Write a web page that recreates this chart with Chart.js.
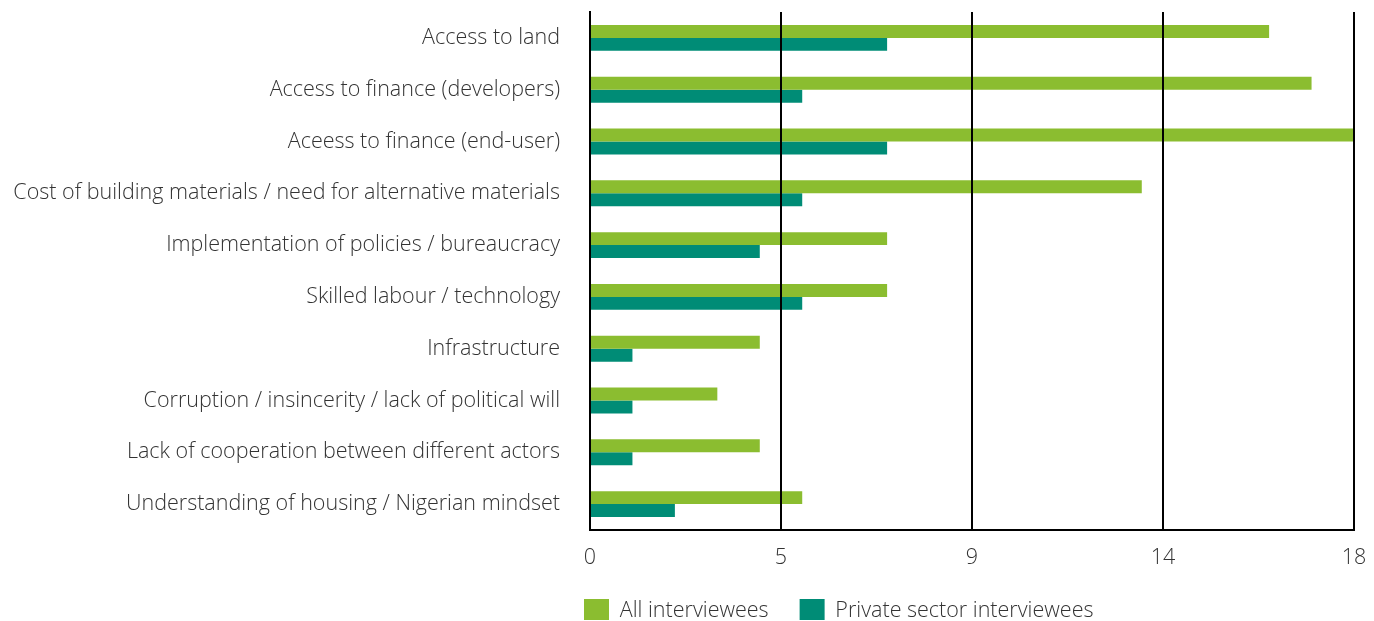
<!DOCTYPE html>
<html lang="en">
<head>
  <meta charset="UTF-8">
  <title>Housing constraints</title>
  <script src="https://cdn.jsdelivr.net/npm/chart.js"></script>
  <style>
    body { margin: 0; background: #fff; }
    .wrap { width: 1374px; height: 621px; }
  </style>
</head>
<body>
  <div class="wrap"><canvas id="chart"></canvas></div>
  <script>
    const categories = [
      'Access to land',
      'Access to finance (developers)',
      'Aceess to finance (end-user)',
      'Cost of building materials / need for alternative materials',
      'Implementation of policies / bureaucracy',
      'Skilled labour / technology',
      'Infrastructure',
      'Corruption / insincerity / lack of political will',
      'Lack of cooperation between different actors',
      'Understanding of housing / Nigerian mindset'
    ];
    const allInterviewees = [16, 17, 18, 13, 7, 7, 4, 3, 4, 5];
    const privateSector = [7, 5, 7, 5, 4, 5, 1, 1, 1, 2];
    const seriesNames = ['All interviewees', 'Private sector interviewees'];
    const colors = ['#8bbd30', '#008c76'];

    const fontFamily = "'Open Sans', sans-serif";
    const textColor = '#333';
    const labelFont = { family: fontFamily, size: 21.5, weight: 300 };

    // short legend under the axis, starting at the left edge of the plot
    const legendPlace = {
      id: 'legendPlace',
      beforeLayout(chart) {
        const lg = chart.legend;
        if (lg && !lg._fixed) {
          const fit = lg.fit.bind(lg);
          lg.fit = function () { fit(); this.height = 52; };
          lg._fixed = true;
        }
      },
      afterLayout(chart) {
        const lg = chart.legend;
        lg.left = chart.chartArea.left - 37;
        lg.top -= 1;
        lg.bottom -= 1;
      }
    };

    new Chart(document.getElementById('chart'), {
      type: 'bar',
      data: {
        labels: categories,
        datasets: [
          { label: seriesNames[0], data: allInterviewees, backgroundColor: colors[0] },
          { label: seriesNames[1], data: privateSector, backgroundColor: colors[1] }
        ]
      },
      options: {
        indexAxis: 'y',
        responsive: true,
        maintainAspectRatio: false,
        animation: false,
        categoryPercentage: 0.5,
        barPercentage: 1,
        layout: { padding: { top: 12, right: 20, left: 0, bottom: 0 } },
        scales: {
          x: {
            min: 0,
            max: 18,
            ticks: {
              stepSize: 4.5,
              callback: v => Math.round(v),
              color: textColor,
              font: labelFont,
              padding: 15
            },
            grid: { color: '#000', lineWidth: 2, drawTicks: false, z: 1 },
            border: { color: '#000', width: 2, z: 1 },
            afterFit: s => { s.height = 39; s.paddingLeft = 0; s.paddingRight = 0; }
          },
          y: {
            ticks: {
              color: textColor,
              font: labelFont,
              padding: 30
            },
            grid: { display: false, drawTicks: false },
            border: { color: '#000', width: 2, z: 1 },
            afterFit: s => { s.width = 590; s.paddingTop = 0; s.paddingBottom = 0; }
          }
        },
        plugins: {
          legend: {
            position: 'bottom',
            fullSize: false,
            align: 'start',
            labels: {
              boxWidth: 25,
              boxHeight: 23,
              padding: 31,
              color: textColor,
              font: labelFont
            }
          },
          tooltip: { enabled: false }
        }
      },
      plugins: [legendPlace]
    });
  </script>
</body>
</html>
